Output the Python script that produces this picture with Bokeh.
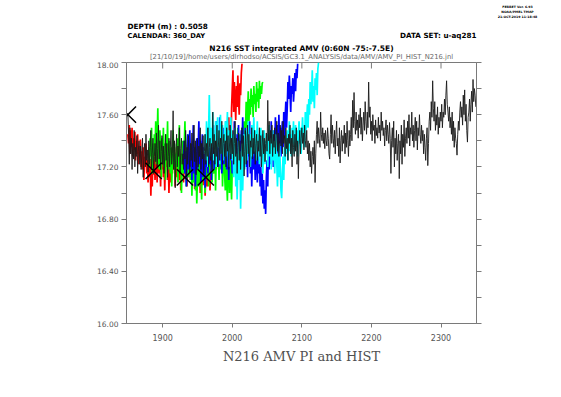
import math
from bokeh.plotting import figure
from bokeh.layouts import column
from bokeh.models import LinearAxis, FixedTicker, Range1d
from bokeh.core.properties import value
from bokeh.embed import file_html
from bokeh.resources import INLINE

# ---------------- data ----------------
pi_start = 1850
pi_sst = [
    17.60, 17.45, 17.22, 17.50, 17.30, 17.42, 17.18, 17.38, 17.26, 17.48,
    17.20, 17.35, 17.28, 17.44, 17.15, 17.32, 17.40, 17.22, 17.36, 17.18,
    17.30, 17.42, 17.12, 17.28, 17.38, 17.20, 17.45, 17.25, 17.33, 17.16,
    17.40, 17.22, 17.35, 17.48, 17.18, 17.30, 17.42, 17.15, 17.28, 17.38,
    17.24, 17.46, 17.20, 17.34, 17.52, 17.26, 17.40, 17.18, 17.32, 17.44,
    17.22, 17.36, 17.15, 17.30, 17.45, 17.25, 17.38, 17.12, 17.28, 17.42,
    17.20, 17.35, 17.48, 17.22, 17.30, 17.63, 17.18, 17.40, 17.04, 17.32,
    17.45, 17.20, 17.36, 17.28, 17.50, 17.15, 17.34, 17.42, 17.22, 17.30,
    17.18, 17.40, 17.26, 17.48, 17.12, 17.35, 17.22, 17.44, 17.30, 17.16,
    17.38, 17.25, 17.46, 17.20, 17.34, 17.52, 17.24, 17.40, 17.14, 17.32,
    17.42, 17.20, 17.36, 17.28, 17.50, 17.18, 17.38, 17.26, 17.44, 17.15,
    17.32, 17.45, 17.22, 17.38, 17.28, 17.50, 17.20, 17.35, 17.42, 17.25,
    17.38, 17.18, 17.62, 17.30, 17.45, 17.22, 17.40, 17.28, 17.52, 17.20,
    17.35, 17.48, 17.25, 17.42, 17.30, 17.55, 17.22, 17.38, 17.45, 17.28,
    17.40, 17.20, 17.50, 17.32, 17.44, 17.18, 17.36, 17.52, 17.26, 17.42,
    17.30, 17.48, 17.22, 17.38, 17.55, 17.28, 17.42, 17.15, 17.35, 17.46,
    17.25, 17.40, 17.18, 17.36, 17.50, 17.28, 17.44, 17.13, 17.32, 17.48,
    17.22, 17.38, 17.52, 17.30, 17.45, 17.20, 17.40, 17.35, 17.50, 17.26,
    17.42, 17.30, 17.48, 17.22, 17.38, 17.45, 17.25, 17.40, 17.32, 17.50,
    17.28, 17.44, 17.20, 17.36, 17.48, 17.30, 17.42, 17.24, 17.38, 17.46,
    17.32, 17.71, 17.40, 17.55, 17.30, 17.48, 17.38, 17.52, 17.28, 17.45,
    17.35, 17.50, 17.30, 17.42, 17.55, 17.32, 17.46, 17.28, 17.40, 17.52,
    17.36, 17.48, 17.30, 17.55, 17.38, 17.44, 17.28, 17.50, 17.34, 17.42,
    17.25, 17.45, 17.38, 17.52, 17.30, 17.42, 17.20, 17.48, 17.35, 17.28,
    17.45, 17.32, 17.50, 17.22, 17.40, 17.11, 17.36, 17.48, 17.30, 17.42,
    17.50, 17.38, 17.46, 17.33, 17.52, 17.40, 17.35, 17.48, 17.30, 17.40,
    17.25, 17.38, 17.20, 17.32, 17.15, 17.28, 17.35, 17.22, 17.40, 17.08,
    17.30, 17.45, 17.55, 17.38, 17.50, 17.42, 17.35, 17.62, 17.45, 17.40,
    17.50, 17.38, 17.46, 17.34, 17.48, 17.40, 17.36, 17.50, 17.42, 17.30,
    17.26, 17.45, 17.60, 17.38, 17.52, 17.42, 17.35, 17.48, 17.30, 17.45,
    17.55, 17.36, 17.42, 17.28, 17.50, 17.23, 17.40, 17.48, 17.32, 17.44,
    17.38, 17.52, 17.30, 17.46, 17.35, 17.55, 17.40, 17.28, 17.48, 17.36,
    17.45, 17.58, 17.40, 17.71, 17.50, 17.77, 17.55, 17.45, 17.62, 17.48,
    17.56, 17.42, 17.60, 17.50, 17.65, 17.45, 17.58, 17.40, 17.52, 17.62,
    17.48, 17.70, 17.55, 17.45, 17.62, 17.50, 17.85, 17.58, 17.66, 17.45,
    17.55, 17.40, 17.60, 17.48, 17.52, 17.38, 17.56, 17.44, 17.50, 17.42,
    17.58, 17.46, 17.52, 17.40, 17.62, 17.48, 17.55, 17.44, 17.50, 17.36,
    17.48, 17.56, 17.40, 17.52, 17.45, 17.38, 17.54, 17.42, 17.15, 17.40,
    17.50, 17.35, 17.55, 17.20, 17.42, 17.30, 17.48, 17.25, 17.38, 17.45,
    17.11, 17.40, 17.30, 17.52, 17.22, 17.45, 17.35, 17.56, 17.28, 17.42,
    17.50, 17.38, 17.55, 17.42, 17.60, 17.36, 17.50, 17.45, 17.62, 17.40,
    17.52, 17.35, 17.48, 17.58, 17.40, 17.55, 17.33, 17.50, 17.44, 17.60,
    17.45, 17.38, 17.52, 17.40, 17.48, 17.30, 17.45, 17.35, 17.25, 17.42,
    17.50, 17.21, 17.38, 17.55, 17.62, 17.48, 17.70, 17.58, 17.86, 17.65,
    17.55, 17.70, 17.48, 17.60, 17.52, 17.66, 17.45, 17.58, 17.50, 17.62,
    17.55, 17.68, 17.50, 17.62, 17.58, 17.72, 17.60, 17.75, 17.86, 17.68,
    17.62, 17.55, 17.66, 17.50, 17.58, 17.45, 17.62, 17.40, 17.55, 17.35,
    17.50, 17.42, 17.38, 17.29, 17.45, 17.55, 17.48, 17.62, 17.70, 17.58,
    17.66, 17.52, 17.75, 17.60, 17.79, 17.55, 17.68, 17.48, 17.39, 17.58,
    17.62, 17.72, 17.55, 17.68, 17.78, 17.62, 17.87, 17.70, 17.80, 17.75,
    17.66,
]

red_start = 1850
red_sst = [
    17.45, 17.38, 17.52, 17.30, 17.48, 17.35, 17.50, 17.28, 17.42, 17.33,
    17.47, 17.25, 17.40, 17.30, 17.45, 17.22, 17.36, 17.28, 17.41, 17.20,
    17.32, 17.18, 17.35, 17.10, 17.28, 17.22, 17.38, 17.15, 17.25, 17.08,
    17.30, 17.12, 17.26, 16.98, 17.20, 17.05, 17.28, 17.14, 17.35, 17.10,
    17.22, 17.32, 17.08, 17.25, 17.40, 17.15, 17.28, 17.05, 17.30, 17.18,
    17.36, 17.12, 17.25, 17.02, 17.30, 17.20, 17.38, 17.10, 17.27, 17.00,
    17.22, 17.33, 17.08, 17.28, 17.15, 17.40, 17.18, 17.30, 17.05, 17.25,
    17.35, 17.12, 17.28, 17.38, 17.10, 17.24, 17.02, 17.30, 17.18, 17.34,
    17.08, 17.26, 17.15, 17.37, 17.20, 17.05, 17.28, 17.12, 17.33, 17.22,
    17.10, 17.30, 17.18, 17.40, 17.14, 17.27, 17.03, 17.22, 17.35, 17.12,
    17.25, 17.08, 17.30, 17.18, 17.00, 17.24, 17.12, 17.32, 17.06, 17.20,
    17.28, 16.98, 17.15, 17.26, 17.05, 17.22, 17.10, 17.30, 17.02, 17.18,
    17.35, 17.20, 17.42, 17.15, 17.30, 17.25, 17.38, 17.18, 17.33, 17.40,
    17.22, 17.36, 17.28, 17.45, 17.20, 17.32, 17.18, 17.38, 17.26, 17.42,
    17.30, 17.20, 17.48, 17.25, 17.40, 17.58, 17.30, 17.52, 17.20, 17.65,
    17.80, 17.94, 17.62, 17.85, 17.70, 17.56, 17.82, 17.66, 17.90, 17.72,
    17.60, 17.84, 17.75, 17.92, 17.99,
]

green_start = 1880
green_sst = [
    17.35, 17.20, 17.42, 17.28, 17.50, 17.15, 17.38, 17.25, 17.45, 17.30,
    17.55, 17.22, 17.40, 17.65, 17.30, 17.18, 17.48, 17.35, 17.12, 17.42,
    17.28, 17.50, 17.20, 17.38, 17.10, 17.45, 17.25, 17.55, 17.18, 17.32,
    17.40, 17.15, 17.35, 17.05, 17.28, 17.48, 17.22, 17.38, 17.10, 17.30,
    17.20, 17.42, 17.08, 17.33, 17.52, 17.18, 17.30, 17.00, 17.25, 17.40,
    17.15, 17.35, 17.55, 17.22, 17.05, 17.30, 17.45, 17.12, 17.28, 17.38,
    17.10, 17.25, 16.98, 17.20, 17.35, 17.08, 17.28, 17.02, 17.18, 16.92,
    17.12, 17.30, 17.05, 17.22, 17.40, 17.15, 16.95, 17.25, 17.10, 17.32,
    17.20, 17.00, 17.28, 17.45, 17.12, 17.35, 17.05, 17.22, 17.40, 17.18,
    17.30, 17.08, 17.25, 17.48, 17.15, 17.36, 17.02, 17.28, 17.42, 17.20,
    17.35, 17.10, 17.30, 17.50, 17.18, 17.40, 17.05, 17.25, 17.38, 17.15,
    17.02, 17.28, 17.10, 16.94, 17.20, 17.35, 17.00, 17.25, 17.12, 16.95,
    17.20, 17.38, 17.15, 17.30, 17.45, 17.22, 17.40, 17.28, 17.50, 17.35,
    17.30, 17.45, 17.22, 17.38, 17.50, 17.28, 17.42, 17.55, 17.35, 17.48,
    17.70, 17.50, 17.62, 17.78, 17.55, 17.72, 17.60, 17.80, 17.66, 17.75,
    17.58, 17.82, 17.68, 17.76, 17.62, 17.85, 17.70, 17.80, 17.65, 17.86,
    17.72, 17.82, 17.76, 17.84, 17.85,
]

blue_start = 1930
blue_sst = [
    17.25, 17.40, 17.15, 17.32, 17.05, 17.28, 17.45, 17.18, 17.35, 17.48,
    17.20, 17.38, 17.10, 17.30, 17.52, 17.15, 17.35, 17.05, 17.28, 17.42,
    17.18, 17.33, 17.55, 17.22, 17.40, 17.08, 17.30, 17.45, 17.12, 17.35,
    17.25, 17.04, 17.38, 17.20, 17.48, 17.15, 17.32, 17.50, 17.22, 17.40,
    17.10, 17.35, 17.28, 17.52, 17.18, 17.42, 17.25, 17.55, 17.30, 17.45,
    17.20, 17.38, 17.58, 17.25, 17.42, 17.15, 17.35, 17.50, 17.22, 17.40,
    17.28, 17.55, 17.18, 17.45, 17.32, 17.10, 17.40, 17.25, 17.50, 17.35,
    17.15, 17.42, 17.28, 17.55, 17.20, 17.38, 17.12, 17.45, 17.30, 17.52,
    17.25, 17.40, 17.18, 17.48, 17.35, 17.58, 17.22, 17.42, 17.30, 17.50,
    17.20, 17.38, 17.12, 17.45, 17.28, 17.55, 17.15, 17.35, 17.05, 17.30,
    17.40, 17.18, 17.32, 17.10, 17.25, 17.42, 17.08, 17.28, 17.15, 17.35,
    17.05, 17.20, 16.98, 17.15, 16.92, 17.10, 16.88, 17.02, 16.84, 17.12,
    17.25, 17.05, 17.35, 17.18, 17.45, 17.22, 17.55, 17.30, 17.42, 17.20,
    17.48, 17.35, 17.58, 17.25, 17.40, 17.52, 17.30, 17.60, 17.38, 17.50,
    17.28, 17.45, 17.55, 17.35, 17.62, 17.42, 17.58, 17.70, 17.50, 17.65,
    17.85, 17.72, 17.90, 17.78, 17.62, 17.82, 17.76, 17.88, 17.70, 17.80,
    17.92, 17.78, 17.95, 17.88, 17.99,
]

cyan_start = 1960
cyan_sst = [
    17.30, 17.45, 17.25, 17.55, 17.38, 17.20, 17.48, 17.75, 17.40, 17.28,
    17.50, 17.35, 17.62, 17.25, 17.45, 17.32, 17.55, 17.20, 17.42, 17.58,
    17.35, 17.48, 17.22, 17.60, 17.40, 17.30, 17.52, 17.25, 17.45, 17.38,
    17.55, 17.28, 17.42, 17.62, 17.35, 17.20, 17.48, 17.30, 17.58, 17.40,
    17.25, 17.45, 17.12, 17.35, 17.50, 17.05, 17.30, 16.95, 17.20, 17.40,
    17.10, 17.32, 16.88, 17.15, 17.38, 17.02, 17.28, 17.45, 17.18, 17.35,
    17.48, 17.25, 17.40, 17.55, 17.30, 17.45, 17.20, 17.38, 17.52, 17.28,
    17.42, 17.58, 17.32, 17.48, 17.25, 17.40, 17.55, 17.35, 17.45, 17.22,
    17.38, 17.50, 17.28, 17.45, 17.15, 17.35, 17.48, 17.22, 17.40, 17.30,
    17.45, 17.20, 17.38, 17.52, 17.28, 17.42, 17.18, 17.35, 17.48, 17.25,
    17.40, 17.15, 17.32, 17.45, 17.22, 17.05, 17.30, 17.12, 17.38, 17.20,
    17.02, 16.96, 17.15, 17.28, 17.10, 17.35, 17.22, 17.42, 17.30, 17.48,
    17.25, 17.40, 17.55, 17.32, 17.45, 17.28, 17.50, 17.38, 17.55, 17.30,
    17.42, 17.52, 17.35, 17.48, 17.28, 17.45, 17.55, 17.38, 17.50, 17.30,
    17.45, 17.58, 17.40, 17.52, 17.35, 17.62, 17.48, 17.55, 17.68, 17.50,
    17.72, 17.60, 17.85, 17.68, 17.78, 17.94, 17.70, 17.82, 17.65, 17.88,
    17.79, 17.92, 17.75, 17.95, 18.00,
]

branch_years = [1850, 1887, 1932, 1962]
branch_sst = [17.60, 17.17, 17.12, 17.12]

x_ticks = [1900, 2000, 2100, 2200, 2300]
y_ticks = [16.0, 16.2, 16.4, 16.6, 16.8, 17.0, 17.2, 17.4, 17.6, 17.8, 18.0]
y_tick_labels = ["16.00", "", "16.40", "", "16.80", "", "17.20", "", "17.60", "", "18.00"]

header_left = ["DEPTH (m) : 0.5058", "CALENDAR: 360_DAY"]
header_right = "DATA SET: u-aq281"
title_text = "N216 SST integrated AMV (0:60N -75:-7.5E)"
subtitle_text = "[21/10/19]/home/users/dlrhodso/ACSIS/GC3.1_ANALYSIS/data/AMV/AMV_PI_HIST_N216.jnl"
ferret_stamp = ["FERRET Ver. 6.93", "NOAA/PMEL TMAP", "21-OCT-2019 11:18:48"]
x_label = "N216 AMV PI and HIST"

W = 545
HEAD_H = 61
AX = "#7a7a7a"
LBL = "#555555"

# ---------------- header (text only) ----------------
head = figure(width=W, height=HEAD_H, x_range=Range1d(0, W), y_range=Range1d(HEAD_H, 0),
              x_axis_type=None, y_axis_type=None, output_backend="svg",
              toolbar_location=None, title=None, min_border=0,
              min_border_left=0, min_border_right=0, min_border_top=0, min_border_bottom=0,
              background_fill_color="white", border_fill_color="white")
head.frame_align = False
head.grid.visible = False
head.outline_line_color = None

def htext(x, y, s, size, bold=False, color="black", align="left",
          font="DejaVu Sans"):
    head.text(x=[x], y=[y], text=[s], text_font=value(font),
              text_font_size=size, text_font_style="bold" if bold else "normal",
              text_color=color, text_align=align, text_baseline="alphabetic")

htext(127, 25.5, header_left[0], "7.3px", bold=True)
htext(127, 35, header_left[1], "6.7px", bold=True)
htext(476, 35, header_right, "7.2px", bold=True, align="right")
htext(301, 47.5, title_text, "7.5px", bold=True, align="center")
htext(301, 56.5, subtitle_text, "6.8px", color="#6a6a6a", align="center")
for i, s in enumerate(ferret_stamp):
    htext(517, 6.5 + 4.8 * i, s, "3.2px", bold=True, align="center")

# ---------------- main plot ----------------
p = figure(width=W, frame_width=350, frame_height=261,
           min_border_left=126, min_border_right=69,
           min_border_top=1, min_border_bottom=58,
           x_range=(1848, 2351), y_range=(16.0, 18.0),
           output_backend="svg", toolbar_location=None, title=None,
           background_fill_color="white", border_fill_color="white")
p.frame_align = False
p.grid.visible = False
p.outline_line_color = AX

def style(ax, tin, tout, labels=True, size="8px"):
    ax.axis_line_color = AX
    ax.axis_line_width = 1
    ax.major_tick_line_color = AX
    ax.major_tick_in = tin
    ax.major_tick_out = tout
    ax.minor_tick_line_color = None
    ax.major_label_text_font = "DejaVu Sans"
    ax.major_label_text_font_size = size
    ax.major_label_text_color = LBL if labels else None
    ax.major_label_standoff = 4

xb = p.xaxis[0]
xb.ticker = FixedTicker(ticks=x_ticks)
style(xb, 0, 4)
xb.major_label_standoff = 6
xb.axis_label = x_label
xb.axis_label_text_font = "DejaVu Serif"
xb.axis_label_text_font_size = "13px"
xb.axis_label_text_font_style = "normal"
xb.axis_label_text_color = "#505050"
xb.axis_label_standoff = 5

yl = p.yaxis[0]
yl.ticker = FixedTicker(ticks=y_ticks)
yl.major_label_overrides = {t: s for t, s in zip(y_ticks, y_tick_labels)}
style(yl, 0, 5, size="7.5px")
yl.major_label_standoff = 3

yr = LinearAxis(ticker=FixedTicker(ticks=y_ticks))
style(yr, 0, 5, labels=False)
p.add_layout(yr, "right")

# inward ticks along the top edge of the frame (half of each dash is clipped)
p.scatter(x_ticks, [p.y_range.end] * len(x_ticks), marker="dash", size=12,
          angle=math.pi / 2, line_color=AX, line_width=1)

def years(start, vals):
    return list(range(start, start + len(vals)))

for start, vals, col in [(red_start, red_sst, "#ff0000"),
                         (green_start, green_sst, "#00ff00"),
                         (blue_start, blue_sst, "#0000ff"),
                         (cyan_start, cyan_sst, "#00ffff")]:
    p.line(years(start, vals), vals, line_color=col, line_width=1.7)
p.line(years(pi_start, pi_sst), pi_sst, line_color="#1a1a1a", line_width=0.9)

p.scatter(branch_years, branch_sst, marker="x", size=23,
          line_color="black", line_width=1.5)

layout = column(head, p, spacing=0)
open("out.html", "w").write(file_html(layout, INLINE))
